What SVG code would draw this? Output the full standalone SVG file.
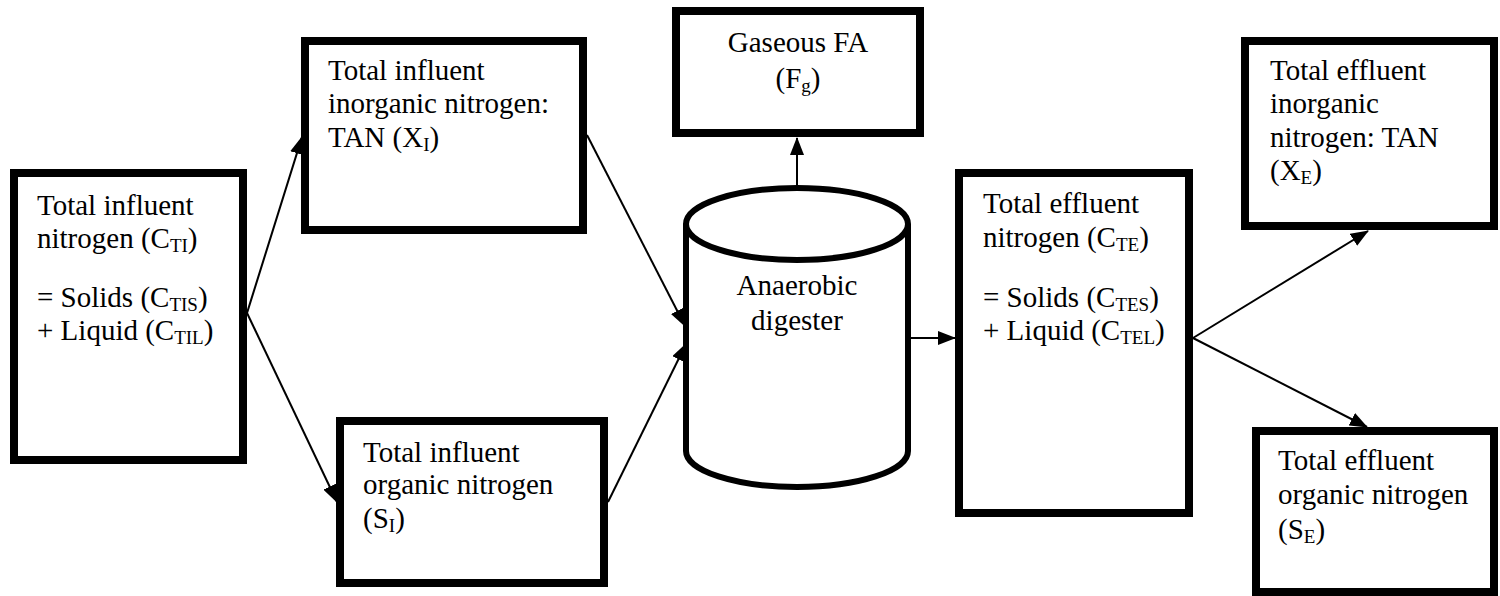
<svg xmlns="http://www.w3.org/2000/svg" width="1500" height="596" viewBox="0 0 1500 596">
<style>
.box{fill:#fff;stroke:#000;stroke-width:8}
.cyl{fill:#fff;stroke:#000;stroke-width:6}
.t{font-family:"Liberation Serif","Times New Roman",serif;font-size:29px;fill:#000}
.c{text-anchor:middle}
.s{font-size:19px}
.con line{stroke:#000;stroke-width:2;marker-end:url(#ah)}
</style>
<defs>
<marker id="ah" viewBox="0 0 18 14" refX="17" refY="7" markerWidth="18" markerHeight="14" markerUnits="userSpaceOnUse" orient="auto">
<path d="M0,0 L18,7 L0,14 z" fill="#000"/>
</marker>
</defs>
<rect width="1500" height="596" fill="#fff"/>
<g id="connectors" class="con">
<line x1="247" y1="313" x2="302" y2="137"/>
<line x1="247" y1="313" x2="337" y2="502"/>
<line x1="587" y1="135" x2="685" y2="326"/>
<line x1="608" y1="502" x2="686" y2="344"/>
<line x1="797" y1="187" x2="797" y2="138"/>
<line x1="908" y1="338" x2="955" y2="338"/>
<line x1="1193" y1="338" x2="1368" y2="231"/>
<line x1="1193" y1="338" x2="1367" y2="427"/>
</g>
<g id="influent">
<rect class="box" x="14" y="173" width="229" height="287"/>
<text class="t" x="37" y="215">Total influent</text>
<text class="t" x="37" y="248">nitrogen (C<tspan class="s" dy="4">TI</tspan><tspan dy="-4">)</tspan></text>
<text class="t" x="37" y="307">= Solids (C<tspan class="s" dy="4">TIS</tspan><tspan dy="-4">)</tspan></text>
<text class="t" x="37" y="340">+ Liquid (C<tspan class="s" dy="4">TIL</tspan><tspan dy="-4">)</tspan></text>
</g>
<g id="influent-inorganic">
<rect class="box" x="305" y="41" width="278" height="189"/>
<text class="t" x="328" y="80">Total influent</text>
<text class="t" x="328" y="113">inorganic nitrogen:</text>
<text class="t" x="328" y="147">TAN (X<tspan class="s" dy="4">I</tspan><tspan dy="-4">)</tspan></text>
</g>
<g id="influent-organic">
<rect class="box" x="340" y="421" width="264" height="162"/>
<text class="t" x="363" y="462">Total influent</text>
<text class="t" x="363" y="494">organic nitrogen</text>
<text class="t" x="363" y="528">(S<tspan class="s" dy="4">I</tspan><tspan dy="-4">)</tspan></text>
</g>
<g id="gaseous">
<rect class="box" x="676" y="11" width="244" height="122"/>
<text class="t c" x="798" y="52">Gaseous FA</text>
<text class="t c" x="798" y="88">(F<tspan class="s" dy="4">g</tspan><tspan dy="-4">)</tspan></text>
</g>
<g id="digester">
<path class="cyl" d="M686,224 L686,451 A111,36 0 0 0 908,451 L908,224"/>
<ellipse class="cyl" cx="797" cy="224" rx="111" ry="36"/>
<text class="t c" x="797" y="295">Anaerobic</text>
<text class="t c" x="797" y="330">digester</text>
</g>
<g id="effluent">
<rect class="box" x="959" y="173" width="230" height="340"/>
<text class="t" x="983" y="213">Total effluent</text>
<text class="t" x="983" y="247">nitrogen (C<tspan class="s" dy="4">TE</tspan><tspan dy="-4">)</tspan></text>
<text class="t" x="983" y="307">= Solids (C<tspan class="s" dy="4">TES</tspan><tspan dy="-4">)</tspan></text>
<text class="t" x="983" y="340">+ Liquid (C<tspan class="s" dy="4">TEL</tspan><tspan dy="-4">)</tspan></text>
</g>
<g id="effluent-inorganic">
<rect class="box" x="1245" y="41" width="249" height="185"/>
<text class="t" x="1270" y="80">Total effluent</text>
<text class="t" x="1270" y="113">inorganic</text>
<text class="t" x="1270" y="147">nitrogen: TAN</text>
<text class="t" x="1270" y="180">(X<tspan class="s" dy="4">E</tspan><tspan dy="-4">)</tspan></text>
</g>
<g id="effluent-organic">
<rect class="box" x="1256" y="431" width="238" height="161"/>
<text class="t" x="1278" y="470">Total effluent</text>
<text class="t" x="1278" y="504">organic nitrogen</text>
<text class="t" x="1278" y="539">(S<tspan class="s" dy="4">E</tspan><tspan dy="-4">)</tspan></text>
</g>
</svg>
